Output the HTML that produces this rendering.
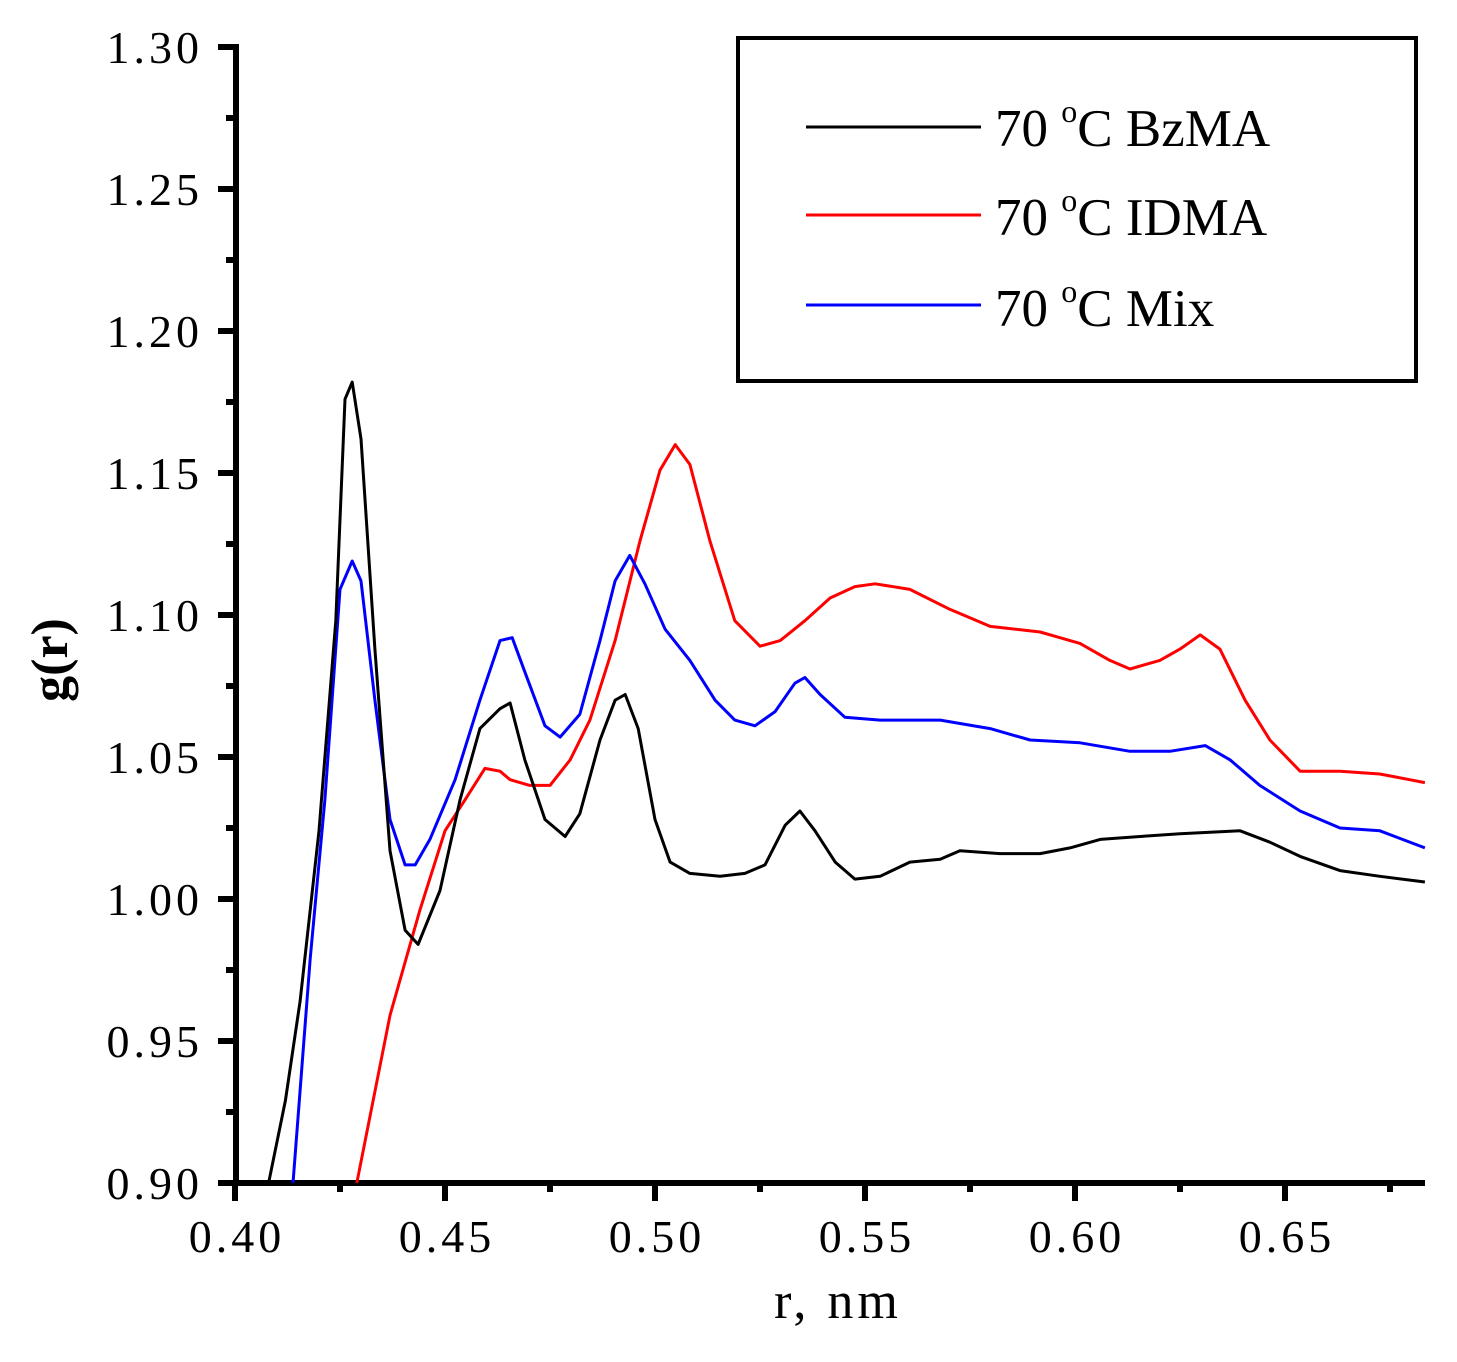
<!DOCTYPE html>
<html><head><meta charset="utf-8"><style>
body{margin:0;background:#fff}
svg text{font-family:"Liberation Serif",serif}
</style></head><body>
<svg id="chart" width="1457" height="1357" xmlns="http://www.w3.org/2000/svg">
<g id="axes"></g>
<g id="series"></g>
<text transform="translate(67,660) rotate(-90)" text-anchor="middle" font-size="52" font-weight="bold">g(r)</text>
<text x="838" y="1318" text-anchor="middle" font-size="52" letter-spacing="4">r, nm</text>
<g>
<rect x="738" y="38" width="678" height="343" fill="#fff" stroke="#000" stroke-width="4"/>
<line x1="806" y1="127" x2="981" y2="127" stroke="#000" stroke-width="3"/>
<text x="995" y="146" font-size="53">70 <tspan font-size="32" dy="-24">o</tspan><tspan dy="24">C BzMA</tspan></text>
<line x1="806" y1="215" x2="981" y2="215" stroke="#f00" stroke-width="3"/>
<text x="995" y="235" font-size="53">70 <tspan font-size="32" dy="-24">o</tspan><tspan dy="24">C IDMA</tspan></text>
<line x1="806" y1="305" x2="981" y2="305" stroke="#00f" stroke-width="3"/>
<text x="995" y="326" font-size="53">70 <tspan font-size="32" dy="-24">o</tspan><tspan dy="24">C Mix</tspan></text>
</g>
</svg>
<script>
const xTicks=[0.40,0.45,0.50,0.55,0.60,0.65];
const yTicks=[0.90,0.95,1.00,1.05,1.10,1.15,1.20,1.25,1.30];
const bzR=[0.408,0.412,0.4155,0.420,0.424,0.4262,0.4279,0.430,0.4333,0.4369,0.4405,0.4436,0.4488,0.4536,0.4583,0.4631,0.4655,0.469,0.4738,0.4786,0.4821,0.4869,0.4905,0.4929,0.496,0.50,0.5036,0.5083,0.5155,0.5214,0.5262,0.531,0.5345,0.5381,0.5429,0.5476,0.5536,0.5607,0.5679,0.5726,0.5821,0.5917,0.5988,0.606,0.6155,0.625,0.6393,0.6464,0.6536,0.6631,0.6726,0.6833];
const bzG=[0.90,0.929,0.964,1.024,1.098,1.176,1.182,1.162,1.088,1.017,0.989,0.984,1.003,1.035,1.060,1.067,1.069,1.049,1.028,1.022,1.030,1.056,1.070,1.072,1.060,1.028,1.013,1.009,1.008,1.009,1.012,1.026,1.031,1.024,1.013,1.007,1.008,1.013,1.014,1.017,1.016,1.016,1.018,1.021,1.022,1.023,1.024,1.020,1.015,1.010,1.008,1.006];
const idR=[0.429,0.4369,0.444,0.45,0.4548,0.4595,0.4631,0.4655,0.4702,0.475,0.4798,0.4845,0.4905,0.4964,0.5012,0.5048,0.5083,0.5131,0.519,0.525,0.5298,0.5357,0.5417,0.5476,0.5524,0.5607,0.5702,0.5798,0.5917,0.6012,0.6083,0.6131,0.6202,0.625,0.6298,0.6345,0.6405,0.6464,0.6536,0.6631,0.6726,0.6833];
const idG=[0.90,0.959,0.996,1.024,1.035,1.046,1.045,1.042,1.040,1.040,1.049,1.063,1.091,1.126,1.151,1.160,1.153,1.126,1.098,1.089,1.091,1.098,1.106,1.110,1.111,1.109,1.102,1.096,1.094,1.090,1.084,1.081,1.084,1.088,1.093,1.088,1.070,1.056,1.045,1.045,1.044,1.041];
const mxR=[0.4138,0.4179,0.4214,0.425,0.4279,0.430,0.4333,0.4369,0.4405,0.4429,0.4464,0.4524,0.4583,0.4631,0.466,0.469,0.4738,0.4774,0.4821,0.4869,0.4905,0.494,0.4976,0.5024,0.5083,0.5143,0.519,0.5238,0.5286,0.5333,0.5357,0.5393,0.5452,0.5536,0.5679,0.5798,0.5893,0.6012,0.6131,0.6226,0.631,0.6369,0.644,0.6536,0.6631,0.6726,0.6833];
const mxG=[0.90,0.979,1.035,1.109,1.119,1.112,1.070,1.028,1.012,1.012,1.021,1.042,1.070,1.091,1.092,1.080,1.061,1.057,1.065,1.091,1.112,1.121,1.111,1.095,1.084,1.070,1.063,1.061,1.066,1.076,1.078,1.072,1.064,1.063,1.063,1.060,1.056,1.055,1.052,1.052,1.054,1.049,1.040,1.031,1.025,1.024,1.018];
const X0=235,XPU=4200,Y0=1183,YPU=2840;
const sx=r=>X0+(r-0.40)*XPU, sy=g=>Y0-(g-0.90)*YPU;
const NS="http://www.w3.org/2000/svg";
const ax=document.getElementById('axes'), se=document.getElementById('series');
function mk(tag,attrs,parent){const e=document.createElementNS(NS,tag);for(const k in attrs)e.setAttribute(k,attrs[k]);parent.appendChild(e);return e;}
let l=mk('line',{x1:236,y1:44,x2:236,y2:1186,stroke:'#000','stroke-width':6},ax);


l=mk('line',{x1:218,y1:1183,x2:1425,y2:1183,stroke:'#000','stroke-width':6},ax);


yTicks.forEach(v=>{
  const y=sy(v);
  const t=mk('line',{x1:218,y1:y,x2:236,y2:y,stroke:'#000','stroke-width':6},ax);
  
  
  const tx=mk('text',{x:203,y:y+16,'text-anchor':'end','font-size':46,'letter-spacing':4},ax);
  tx.textContent=v.toFixed(2);
  
  
  if(v<1.30){const m=sy(v+0.025);
    const mt=mk('line',{x1:226,y1:m,x2:236,y2:m,stroke:'#000','stroke-width':6},ax);
    
    }
});
xTicks.forEach(v=>{
  const x=sx(v);
  const t=mk('line',{x1:x,y1:1183,x2:x,y2:1201,stroke:'#000','stroke-width':6},ax);
  
  
  const tx=mk('text',{x:x+2,y:1252,'text-anchor':'middle','font-size':46,'letter-spacing':4},ax);
  tx.textContent=v.toFixed(2);
  
  
  const m=sx(v+0.025);
  if(m<1425){const mt=mk('line',{x1:m,y1:1183,x2:m,y2:1192,stroke:'#000','stroke-width':6},ax);
    
    }
});
function draw(R,G,color,name){
  const d=R.map((r,i)=>(i?'L':'M')+sx(r).toFixed(1)+','+sy(G[i]).toFixed(1)).join(' ');
  const p=mk('path',{d:d,fill:'none',stroke:color,'stroke-width':3,'stroke-linejoin':'round'},se);
  
  
}
draw(idR,idG,'#f00','series-idma');
draw(mxR,mxG,'#00f','series-mix');
draw(bzR,bzG,'#000','series-bzma');
</script>
</body></html>
